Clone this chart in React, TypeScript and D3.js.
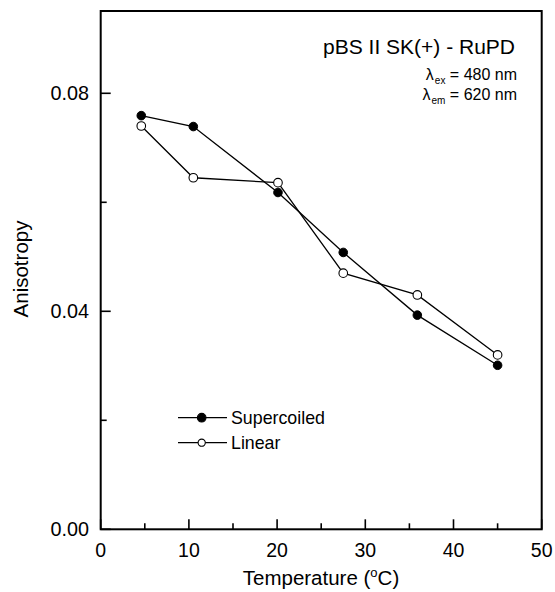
import React from "react";
import * as d3 from "d3";

const temps = [4.6, 10.5, 20.1, 27.5, 35.9, 45.0];
const supercoiled = [0.0759, 0.0739, 0.0618, 0.0508, 0.0393, 0.0301];
const linear = [0.074, 0.0645, 0.0636, 0.047, 0.043, 0.032];
const xTicks = [0, 10, 20, 30, 40, 50];
const xMinor = [5, 15, 25, 35, 45];
const yTicks = [0, 0.04, 0.08];
const yMinor = [0.02, 0.06];

const W = 555, H = 592;
const L = 100.7, R = 541.7, T = 11, B = 529.3;
const font = "Liberation Sans, Arial, sans-serif";

export default function App() {
  const x = d3.scaleLinear().domain([0, 50]).range([L, R]);
  const y = d3.scaleLinear().domain([0, 0.0951]).range([B, T]);
  const line = d3.line<number>().x((_, i) => x(temps[i])).y((d) => y(d));

  return (
    <svg width={W} height={H} style={{ position: "absolute", left: 0, top: 0 }} fontFamily={font}>
      <rect x={0} y={0} width={W} height={H} fill="#fff" />
      <path d={line(supercoiled) || ""} fill="none" stroke="#000" strokeWidth={1.3} />
      <path d={line(linear) || ""} fill="none" stroke="#000" strokeWidth={1.3} />
      {supercoiled.map((v, i) => (
        <circle key={"s" + i} cx={x(temps[i])} cy={y(v)} r={4.3} fill="#000" stroke="#000" strokeWidth={1} />
      ))}
      {linear.map((v, i) => (
        <circle key={"l" + i} cx={x(temps[i])} cy={y(v)} r={4.3} fill="#fff" stroke="#000" strokeWidth={1.1} />
      ))}
      <rect x={L} y={T} width={R - L} height={B - T} fill="none" stroke="#000" strokeWidth={2} />
      {xTicks.map((t) => (
        <g key={"xt" + t}>
          <line x1={x(t)} x2={x(t)} y1={B} y2={B - 10} stroke="#000" strokeWidth={1.6} />
          <text x={x(t)} y={557} textAnchor="middle" fontSize={19.5}>{t}</text>
        </g>
      ))}
      {xMinor.map((t) => (
        <line key={"xm" + t} x1={x(t)} x2={x(t)} y1={B} y2={B - 6} stroke="#000" strokeWidth={1.6} />
      ))}
      {yTicks.map((t) => (
        <g key={"yt" + t}>
          <line x1={L} x2={L + 10} y1={y(t)} y2={y(t)} stroke="#000" strokeWidth={1.6} />
          <text x={89} y={y(t) + 6.5} textAnchor="end" fontSize={19.8}>{t.toFixed(2)}</text>
        </g>
      ))}
      {yMinor.map((t) => (
        <line key={"ym" + t} x1={L} x2={L + 6} y1={y(t)} y2={y(t)} stroke="#000" strokeWidth={1.6} />
      ))}
      <text x={321} y={585} textAnchor="middle" fontSize={20.5}>
        Temperature (<tspan dy={-8} fontSize={13}>o</tspan><tspan dy={8}>C)</tspan>
      </text>
      <text transform={`translate(28,269) rotate(-90)`} textAnchor="middle" fontSize={20.5}>Anisotropy</text>
      <text x={515} y={54} textAnchor="end" fontSize={21}>pBS II SK(+) - RuPD</text>
      <text x={517} y={80} textAnchor="end" fontSize={16}>
        λ<tspan dy={4} dx={1} fontSize={10}>ex</tspan><tspan dy={-4}> = 480 nm</tspan>
      </text>
      <text x={517} y={100} textAnchor="end" fontSize={16}>
        λ<tspan dy={4} dx={1} fontSize={10}>em</tspan><tspan dy={-4}> = 620 nm</tspan>
      </text>
      {[{ y: 417.7, fill: "#000", label: "Supercoiled", r: 4.3 }, { y: 442.7, fill: "#fff", label: "Linear", r: 3.6 }].map((d) => (
        <g key={d.label}>
          <line x1={178} x2={227} y1={d.y} y2={d.y} stroke="#000" strokeWidth={1.3} />
          <circle cx={201.7} cy={d.y} r={d.r} fill={d.fill} stroke="#000" strokeWidth={1.1} />
          <text x={231} y={d.y + 6.5} fontSize={17.8}>{d.label}</text>
        </g>
      ))}
    </svg>
  );
}
